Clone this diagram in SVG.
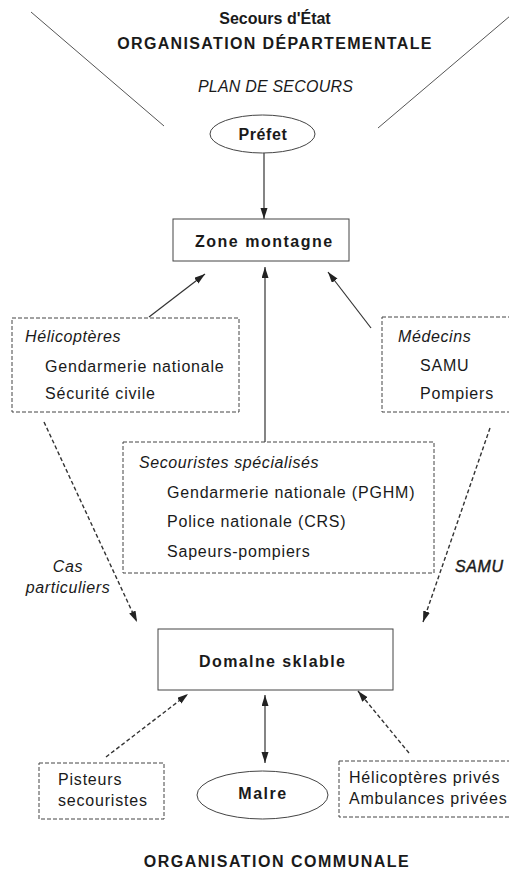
<svg xmlns="http://www.w3.org/2000/svg" width="509" height="872" viewBox="0 0 509 872">
<style>
text{font-family:"Liberation Sans",Arial,sans-serif;fill:#1a1a1a}
.t{font-size:16px;letter-spacing:0.8px}
.i{font-size:16px;font-style:italic;letter-spacing:0.6px}
.b{font-size:16px;font-weight:bold;letter-spacing:1.4px}
.solid{stroke:#222;stroke-width:1.2;fill:none}
.box{stroke:#444;stroke-width:1;fill:#fff}
.dbox{stroke:#444;stroke-width:1;fill:#fff;stroke-dasharray:4 2}
.line{stroke:#333;stroke-width:1.2;fill:none}
.dline{stroke:#333;stroke-width:1.4;fill:none;stroke-dasharray:4 2.5}
.plain{stroke:#555;stroke-width:1;fill:none}
</style>
<defs>
<marker id="ah" markerUnits="userSpaceOnUse" markerWidth="12" markerHeight="8" refX="11" refY="3.5" orient="auto-start-reverse">
<path d="M0,0 L11,3.5 L0,7 z" fill="#222"/>
</marker>
</defs>
<rect width="509" height="872" fill="#fff"/>
<g id="frame">
<line class="plain" x1="31" y1="12" x2="164" y2="126"/>
<line class="plain" x1="510" y1="16" x2="378" y2="128"/>
<text x="275" y="24" text-anchor="middle" style="font-size:16px;font-weight:bold">Secours d'État</text>
<text x="275" y="49" text-anchor="middle" class="b" style="letter-spacing:1.35px">ORGANISATION DÉPARTEMENTALE</text>
<text x="275.5" y="92" text-anchor="middle" class="i" style="letter-spacing:0.2px">PLAN DE SECOURS</text>
<text x="277" y="867" text-anchor="middle" class="b" style="letter-spacing:1.5px">ORGANISATION COMMUNALE</text>
</g>
<g id="connectors">
<line class="line" x1="264" y1="153" x2="264" y2="219" marker-end="url(#ah)"/>
<line class="line" x1="149" y1="317" x2="205" y2="274" marker-end="url(#ah)"/>
<line class="line" x1="265" y1="442" x2="265" y2="267" marker-end="url(#ah)"/>
<line class="line" x1="371" y1="328" x2="328" y2="272" marker-end="url(#ah)"/>
<line class="dline" x1="44" y1="422" x2="137" y2="622" marker-end="url(#ah)"/>
<line class="dline" x1="490" y1="428" x2="423" y2="622" marker-end="url(#ah)"/>
<line class="dline" x1="106" y1="757" x2="188" y2="694" marker-end="url(#ah)"/>
<line class="dline" x1="409" y1="753" x2="358" y2="691" marker-end="url(#ah)"/>
<line class="line" x1="265" y1="695" x2="265" y2="763" marker-start="url(#ah)" marker-end="url(#ah)"/>
<text x="68" y="572" text-anchor="middle" class="i">Cas</text>
<text x="68" y="593" text-anchor="middle" class="i">particuliers</text>
<text x="455" y="572" class="i" style="stroke:#1a1a1a;stroke-width:0.4">SAMU</text>
</g>
<g id="prefet">
<ellipse cx="262.5" cy="134" rx="52.5" ry="19" class="box"/>
<text x="263" y="140" text-anchor="middle" class="b" style="letter-spacing:0.6px">Préfet</text>
</g>
<g id="zone-montagne">
<rect x="173" y="219" width="176" height="42" class="box"/>
<text x="195" y="247" class="b" style="letter-spacing:1.5px">Zone montagne</text>
</g>
<g id="helicopteres">
<rect x="12" y="318" width="227" height="94" class="dbox"/>
<text x="25" y="342" class="i">Hélicoptères</text>
<text x="45" y="372" class="t">Gendarmerie nationale</text>
<text x="45" y="399" class="t">Sécurité civile</text>
</g>
<g id="medecins">
<rect x="382" y="317" width="140" height="95" class="dbox"/>
<text x="398" y="342" class="i">Médecins</text>
<text x="420" y="371" class="t">SAMU</text>
<text x="420" y="399" class="t">Pompiers</text>
</g>
<g id="secouristes">
<rect x="123" y="442" width="311" height="131" class="dbox"/>
<text x="139" y="468" class="i">Secouristes spécialisés</text>
<text x="167" y="498" class="t">Gendarmerie nationale (PGHM)</text>
<text x="167" y="527" class="t">Police nationale (CRS)</text>
<text x="167" y="557" class="t">Sapeurs-pompiers</text>
</g>
<g id="domaine">
<rect x="158" y="629" width="235" height="61" class="box"/>
<text x="199" y="667" class="b">Domalne sklable</text>
</g>
<g id="pisteurs">
<rect x="39" y="763" width="125" height="56" class="dbox"/>
<text x="58" y="785" class="t">Pisteurs</text>
<text x="58" y="806" class="t">secouristes</text>
</g>
<g id="maire">
<ellipse cx="262.5" cy="795" rx="65.5" ry="24" class="box"/>
<text x="263" y="799" text-anchor="middle" class="b" style="letter-spacing:1.5px">Malre</text>
</g>
<g id="prives">
<rect x="339" y="761" width="180" height="56" class="dbox"/>
<text x="349" y="783" class="t">Hélicoptères privés</text>
<text x="349" y="804" class="t">Ambulances privées</text>
</g>
</svg>
